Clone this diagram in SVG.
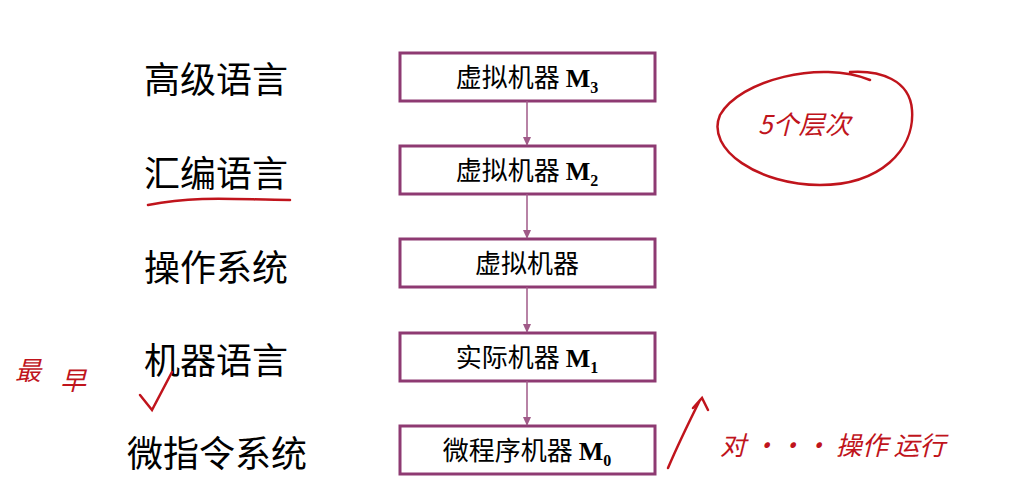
<svg xmlns="http://www.w3.org/2000/svg" width="1024" height="490" viewBox="0 0 1024 490">
<style>
.box{fill:#fff;stroke:#8e3a72;stroke-width:3}
.lbl{font-family:"Noto Sans CJK SC",sans-serif;font-size:36px;fill:#000;text-anchor:middle}
.bt{font-family:"Noto Sans CJK SC",serif;font-size:26px;fill:#000;text-anchor:middle}
.m{font-family:"Liberation Serif",serif;font-weight:bold}
.con{stroke:#a05a88;stroke-width:1.5;fill:none;marker-end:url(#a)}
.ink{stroke:#c0141c;stroke-width:2.5;fill:none;stroke-linecap:round}
.hw{font-family:"Noto Sans CJK SC",cursive;fill:#c0141c;font-size:26px;font-style:italic}
</style>
<defs><marker id="a" markerWidth="10" markerHeight="10" refX="8" refY="5" orient="auto" markerUnits="userSpaceOnUse"><path d="M0,1 L9,5 L0,9 Z" fill="#a05a88"/></marker></defs>
<rect width="1024" height="490" fill="#fff"/>
<g id="labels">
<text class="lbl" x="216" y="93">高级语言</text>
<text class="lbl" x="216" y="187">汇编语言</text>
<text class="lbl" x="216" y="281">操作系统</text>
<text class="lbl" x="216" y="374">机器语言</text>
<text class="lbl" x="217" y="467">微指令系统</text>
</g>
<g id="n1"><rect class="box" x="400" y="53" width="255" height="48"/><text class="bt" x="527" y="87">虚拟机器 <tspan class="m">M</tspan><tspan class="m" font-size="16" dy="6">3</tspan></text></g>
<g id="n2"><rect class="box" x="400" y="146" width="255" height="48"/><text class="bt" x="527" y="180">虚拟机器 <tspan class="m">M</tspan><tspan class="m" font-size="16" dy="6">2</tspan></text></g>
<g id="n3"><rect class="box" x="400" y="239" width="255" height="48"/><text class="bt" x="527" y="273">虚拟机器</text></g>
<g id="n4"><rect class="box" x="400" y="333" width="255" height="48"/><text class="bt" x="527" y="367">实际机器 <tspan class="m">M</tspan><tspan class="m" font-size="16" dy="6">1</tspan></text></g>
<g id="n5"><rect class="box" x="400" y="426" width="255" height="48"/><text class="bt" x="527" y="460">微程序机器 <tspan class="m">M</tspan><tspan class="m" font-size="16" dy="6">0</tspan></text></g>
<g id="connectors">
<line class="con" x1="527" y1="101" x2="527" y2="145"/>
<line class="con" x1="527" y1="194" x2="527" y2="238"/>
<line class="con" x1="527" y1="287" x2="527" y2="332"/>
<line class="con" x1="527" y1="381" x2="527" y2="425"/>
</g>
<g id="annotations">
<path class="ink" d="M870,80 C820,60 740,80 720,115 C705,150 760,185 820,185 C880,185 915,150 912,110 C910,80 880,70 850,72"/>
<text class="hw" x="758" y="134">5个层次</text>
<path class="ink" d="M148,205 C200,195 240,200 290,200"/>
<path class="ink" d="M140,395 L152,410 L172,372"/>
<text class="hw" x="15" y="380" font-size="40">最</text>
<text class="hw" x="60" y="390" font-size="40">早</text>
<path class="ink" d="M668,468 C680,440 690,420 700,400 M693,408 L702,398 L708,410"/>
<text class="hw" x="720" y="455" font-size="30">对 ··· 操作 运行</text>
</g>
</svg>
